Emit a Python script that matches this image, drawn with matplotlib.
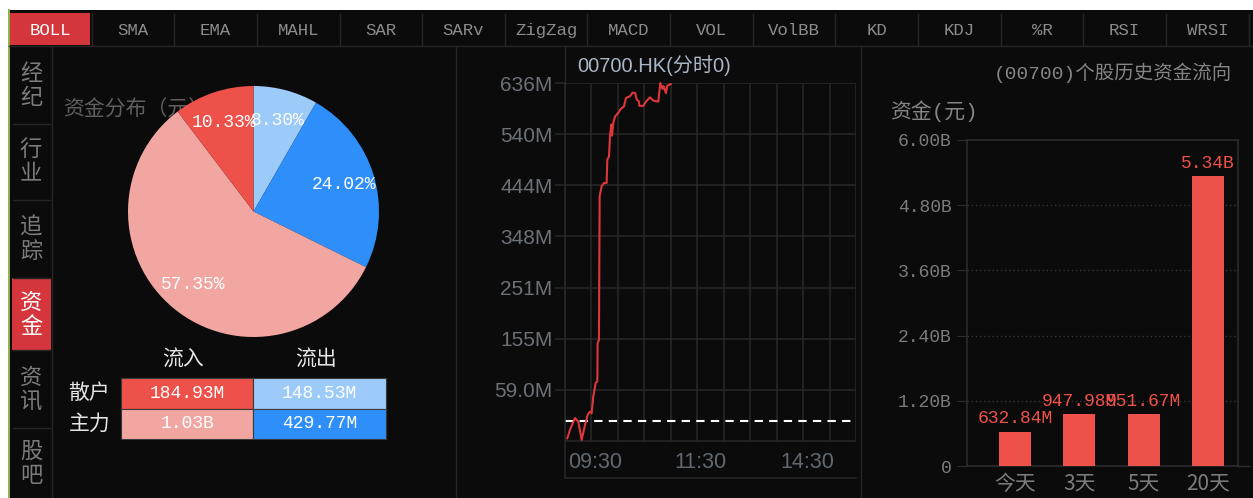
import matplotlib
matplotlib.use("Agg")
import matplotlib.pyplot as plt
from matplotlib.patches import Rectangle
import matplotlib.transforms as mtransforms

W, H = 1253, 498
BG = "#0b0b0b"
LINE = "#262626"
GRID = "#282828"
RED_TAB = "#d4363c"
CJK = ["Noto Sans CJK SC", "DejaVu Sans"]
MONO = ["Liberation Mono", "Noto Sans CJK SC"]
SANS = ["Liberation Sans", "Noto Sans CJK SC"]

tabs = ["BOLL", "SMA", "EMA", "MAHL", "SAR", "SARv", "ZigZag", "MACD",
        "VOL", "VolBB", "KD", "KDJ", "%R", "RSI", "WRSI"]
side_tabs = ["经纪", "行业", "追踪", "资金", "资讯", "股吧"]

# pie, clockwise from 12 o'clock
pie_names = ["散户流出", "主力流出", "主力流入", "散户流入"]
pie_pct = [8.30, 24.02, 57.35, 10.33]
pie_colors = ["#9ccbf9", "#2f8ffa", "#f2a6a1", "#ee5149"]

flow_rows = ["散户", "主力"]
flow_cols = ["流入", "流出"]
flow_text = [["184.93M", "148.53M"], ["1.03B", "429.77M"]]
flow_colors = [["#ee5149", "#9ccbf9"], ["#f2a6a1", "#2f8ffa"]]

# intraday net flow (minutes after 09:30, millions)
minutes = [2.6, 5.7, 11.3, 15.1, 18.9, 22.7, 25.7, 28.3, 30.2, 32.1, 34.8, 36.7,
           37.0, 38.5, 39.3, 41.6, 44.2, 47.2, 48.0, 49.9, 51.0, 52.5, 53.3, 54.8,
           56.7, 60.5, 63.1, 66.9, 69.2, 73.7, 76.7, 79.7, 81.3, 83.9, 84.3, 88.8,
           91.8, 96.4, 100.1, 105.8, 108.1, 110.7, 111.8, 114.5, 116.0, 119.8]
flow_m = [-32, -16, 6, -1, -35, -7, 12, 18, 15, 47, 72, 75,
          147, 153, 423, 442, 448, 448, 492, 498, 536, 558, 537, 561,
          573, 580, 587, 592, 608, 611, 618, 617, 605, 601, 593, 593,
          601, 609, 603, 601, 636, 625, 630, 617, 631, 634]
yticks_m = [636, 540, 444, 348, 251, 155, 59.0]
ytick_labels = ["636M", "540M", "444M", "348M", "251M", "155M", "59.0M"]
time_pos = [0, 120, 240]
time_labels = ["09:30", "11:30", "14:30"]

hist_days = ["今天", "3天", "5天", "20天"]
hist_vals = [0.63284, 0.94798, 0.95167, 5.34]
hist_labels = ["632.84M", "947.98M", "951.67M", "5.34B"]
hist_ticks = [0, 1.2, 2.4, 3.6, 4.8, 6.0]
hist_tick_labels = ["0", "1.20B", "2.40B", "3.60B", "4.80B", "6.00B"]


def box(x0, y0, x1, y1):
    return [x0 / W, 1 - y1 / H, (x1 - x0) / W, (y1 - y0) / H]


fig = plt.figure(figsize=(W / 100, H / 100), dpi=100, facecolor="white")

# ---- background / frame
bg = fig.add_axes([0, 0, 1, 1], zorder=0)
bg.set_xlim(0, W)
bg.set_ylim(H, 0)
bg.axis("off")
bg.add_patch(Rectangle((9, 10), W - 9, H - 10, fc=BG, ec="none"))
bg.plot([8.5, 8.5], [10, H], color="#8fb24c", lw=1.4)

tab_w = 82.64
for i, t in enumerate(tabs):
    x0 = 9 + tab_w * i
    if i == 0:
        bg.add_patch(Rectangle((10, 13), 80, 32, fc=RED_TAB, ec="none"))
    bg.plot([x0 + tab_w, x0 + tab_w], [14, 45], color=LINE, lw=1)
    bg.text(x0 + tab_w / 2, 30, t, ha="center", va="center", family=MONO,
            fontsize=12.5, color="white" if i == 0 else "#8c8c8c")
bg.plot([9, W], [46, 46], color=LINE, lw=1)

side_edges = [47, 124, 200, 278, 350, 428, 498]
for i, name in enumerate(side_tabs):
    y0, y1 = side_edges[i], side_edges[i + 1]
    active = name == "资金"
    if active:
        bg.add_patch(Rectangle((12, y0), 39, y1 - y0, fc=RED_TAB, ec="none"))
    if i > 0:
        bg.plot([13, 50], [y0, y0], color=LINE, lw=1)
    yc = (y0 + y1) / 2
    for j, ch in enumerate(name):
        bg.text(31, yc + (j - 0.5) * 24, ch, ha="center", va="center", family=CJK,
                fontsize=16, color="white" if active else "#7c7c7c")
bg.plot([51.5, 51.5], [47, H], color=LINE, lw=1)
bg.plot([455.5, 455.5], [47, H], color=LINE, lw=1)
bg.plot([860.5, 860.5], [47, H], color=LINE, lw=1)
bg.plot([564.5, 564.5], [47, 83], color=GRID, lw=1)
bg.plot([1238, 1250], [466, 466], color="#2e2e2e", lw=1)

# ---- pie
bg.text(63, 110, "资金分布（元）", ha="left", va="center", family=CJK,
        fontsize=15, color="#5f5f5f")
ax_pie = fig.add_axes(box(128, 86, 379, 337), zorder=1)
ax_pie.set_facecolor("none")
ax_pie.pie(pie_pct, colors=pie_colors, startangle=90, counterclock=False,
           radius=1, autopct="%.2f%%", pctdistance=0.75,
           wedgeprops=dict(linewidth=0),
           textprops=dict(color="white", family=MONO, fontsize=13))
ax_pie.set_xlim(-1, 1)
ax_pie.set_ylim(-1, 1)

# ---- table
ax_tab = fig.add_axes(box(121, 378, 386, 439), zorder=1)
ax_tab.set_facecolor("none")
ax_tab.set_xlim(0, 2)
ax_tab.set_ylim(2, 0)
ax_tab.axis("off")
for c, name in enumerate(flow_cols):
    ax_tab.text(c + 0.47, -0.6, name, ha="center", va="center", family=CJK,
                fontsize=15, color="#e6e6e6")
for r, name in enumerate(flow_rows):
    ax_tab.text(-0.08, r + 0.5, name, ha="right", va="center", family=CJK,
                fontsize=15, color="#e6e6e6")
    for c in range(2):
        ax_tab.add_patch(Rectangle((c, r), 1, 1, fc=flow_colors[r][c],
                                   ec="#3a3a3a", lw=0.8, clip_on=False))
        ax_tab.text(c + 0.5, r + 0.5, flow_text[r][c], ha="center", va="center",
                    family=MONO, fontsize=13, color="white")

# ---- intraday line
ax_line = fig.add_axes(box(565, 83, 856, 478), zorder=1)
ax_line.set_facecolor("none")
step = (yticks_m[0] - yticks_m[-1]) / (len(yticks_m) - 1)
grid_bottom = yticks_m[-1] - step
ax_line.set_xlim(0, 330)
ax_line.set_ylim(yticks_m[0] - (yticks_m[0] - grid_bottom) * 395 / 358, yticks_m[0])
for v in yticks_m + [grid_bottom]:
    ax_line.axhline(v, color=GRID, lw=1.1, zorder=1)
for m in range(0, 331, 30):
    ax_line.plot([m, m], [grid_bottom, yticks_m[0]], color=GRID, lw=1.1, zorder=1)
ax_line.axhline(0, color="white", lw=1.5, ls=(0, (4, 3)), zorder=2)
ax_line.plot(minutes, flow_m, color="#dd373c", lw=1.5, zorder=3, clip_on=False)
ax_line.set_yticks(yticks_m)
ax_line.set_yticklabels(ytick_labels, family=SANS, fontsize=15, color="#6c7178")
ax_line.set_xticks([])
ax_line.tick_params(axis="y", length=7, width=1.1, color=GRID, pad=2)
for s in ["top", "right"]:
    ax_line.spines[s].set_visible(False)
for s in ["left", "bottom"]:
    ax_line.spines[s].set_color(GRID)
    ax_line.spines[s].set_linewidth(1.1)
trans = mtransforms.blended_transform_factory(ax_line.transData, ax_line.transAxes)
for m, lab in zip(time_pos, time_labels):
    ax_line.text(m + 4, 0.04, lab, transform=trans, ha="left", va="center",
                 family=SANS, fontsize=15.5, color="#62686f")
bg.text(577, 66, "00700.HK(分时0)", ha="left", va="center", family=SANS,
        fontsize=14.5, color="#a9b6c6")

# ---- history bars
bg.text(1232, 73, "(00700)个股历史资金流向", ha="right", va="center", family=MONO,
        fontsize=14, color="#858585")
bg.text(890, 111, "资金(元)", ha="left", va="center", family=MONO,
        fontsize=15, color="#858585")
ax_bar = fig.add_axes(box(967, 140, 1238, 466), zorder=1)
ax_bar.set_facecolor("none")
xs = list(range(len(hist_days)))
ax_bar.bar(xs, hist_vals, width=0.5, color="#ee5149", zorder=3)
for x, v, lab in zip(xs, hist_vals, hist_labels):
    ax_bar.annotate(lab, (x, v), xytext=(0, 3), textcoords="offset points",
                    ha="center", va="bottom", family=MONO, fontsize=13,
                    color="#f0524a", zorder=4)
ax_bar.set_xlim(-0.746, 3.468)
ax_bar.set_ylim(0, 6.0)
ax_bar.set_yticks(hist_ticks)
ax_bar.set_yticklabels(hist_tick_labels, family=MONO, fontsize=13, color="#7c7c7c")
ax_bar.set_xticks(xs)
ax_bar.set_xticklabels(hist_days, family=CJK, fontsize=15, color="#7c7c7c")
ax_bar.tick_params(axis="x", length=0, pad=5)
ax_bar.tick_params(axis="y", length=7, color="#2e2e2e", pad=4)
for v in hist_ticks[1:-1]:
    ax_bar.axhline(v, color="#363636", lw=1, ls=(0, (1, 2)), zorder=1)
for s in ax_bar.spines.values():
    s.set_color("#2e2e2e")
    s.set_linewidth(1.1)

fig.savefig("out.png", dpi=100, facecolor=fig.get_facecolor())
